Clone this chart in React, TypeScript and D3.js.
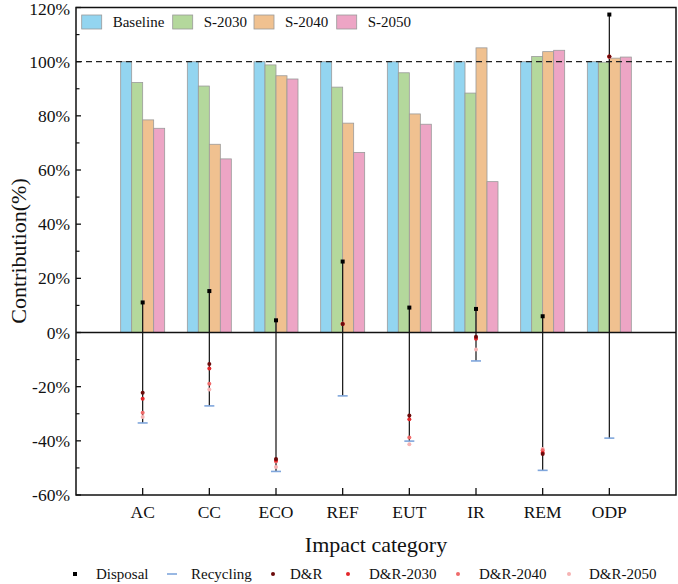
import React from "react";
import * as d3 from "d3";

const categories = ["AC", "CC", "ECO", "REF", "EUT", "IR", "REM", "ODP"];
const seriesNames = ["Baseline", "S-2030", "S-2040", "S-2050"];
const baseline = [100, 100, 100, 100, 100, 100, 100, 100];
const s2030 = [92.3, 91.0, 98.8, 90.6, 95.9, 88.4, 101.9, 99.8];
const s2040 = [78.5, 69.5, 94.8, 77.3, 80.7, 105.1, 103.7, 101.3];
const s2050 = [75.4, 64.1, 93.6, 66.5, 76.9, 55.7, 104.2, 101.7];

const disposal = [11.1, 15.3, 4.5, 26.2, 9.2, 8.7, 6.0, 117.4];
const recycling = [-33.4, -27.1, -51.3, -23.4, -40.1, -10.5, -50.9, -39.0];
const dr = [-22.2, -11.6, -46.7, 3.1, -30.6, -1.6, -44.9, 101.9];
const dr2030 = [-24.5, -13.3, -47.2, 3.1, -32.0, -2.3, -44.4, 101.9];
const dr2040 = [-29.6, -18.9, -47.6, 3.2, -38.8, -2.0, -43.5, 101.8];
const dr2050 = [-31.2, -21.0, -49.7, 3.2, -41.3, -6.3, -43.0, 101.7];

const yTicks = [-60, -40, -20, 0, 20, 40, 60, 80, 100, 120];

const barColors = ["#93d5f0", "#b4d89c", "#f0c190", "#eda5c5"];
const drNames = ["D&R", "D&R-2030", "D&R-2040", "D&R-2050"];
const drColors = ["#6b0a0a", "#e3262a", "#ef6a6a", "#f6b3b3"];

const FONT = "'Liberation Serif', 'Times New Roman', serif";

export default function App() {
  const W = 678, H = 584;
  const left = 76, right = 676, top = 7.5, bottom = 495;
  const x = d3.scaleBand<string>().domain(categories).range([left, right]).paddingInner(0).paddingOuter(0.5);
  const y = d3.scaleLinear().domain([-60, 120]).range([bottom, top]);
  const inner = d3.scaleBand<string>().domain(seriesNames).range([-22, 22]).padding(0);
  const series = [baseline, s2030, s2040, s2050];
  const drSeries = [dr, dr2030, dr2040, dr2050];
  const cx = (c: string) => (x(c) as number) + x.bandwidth() / 2;
  const minorTicks = d3.range(-50, 120, 20);

  return (
    <div style={{ position: "absolute", left: 0, top: 0 }}>
      <svg width={W} height={H} style={{ display: "block", background: "#fff" }} fontFamily={FONT}>
        {/* bars */}
        {categories.map((c, i) =>
          series.map((s, k) => {
            const v = s[i];
            const x0 = cx(c) + (inner(seriesNames[k]) as number);
            return (
              <rect key={c + k} x={x0} y={y(v)} width={inner.bandwidth()} height={y(0) - y(v)}
                fill={barColors[k]} stroke="#9a9a9a" strokeWidth={0.8} />
            );
          })
        )}
        {/* 100% reference line */}
        <line x1={left} x2={right} y1={y(100)} y2={y(100)} stroke="#222" strokeWidth={1.3} strokeDasharray="6,4" />
        {/* zero line */}
        <line x1={left} x2={right} y1={y(0)} y2={y(0)} stroke="#111" strokeWidth={1.5} />
        {/* range lines */}
        {categories.map((c, i) => (
          <g key={"rng" + c}>
            <line x1={cx(c)} x2={cx(c)} y1={y(disposal[i])} y2={y(recycling[i])} stroke="#111" strokeWidth={1.2} />
            <line x1={cx(c) - 5} x2={cx(c) + 5} y1={y(recycling[i])} y2={y(recycling[i])} stroke="#7fa6dc" strokeWidth={1.6} />
            <rect x={cx(c) - 2} y={y(disposal[i]) - 2} width={4} height={4} fill="#000" />
          </g>
        ))}
        {categories.map((c, i) =>
          drSeries.map((s, k) => (
            <circle key={"dr" + c + k} cx={cx(c)} cy={y(s[i])} r={2} fill={drColors[k]} />
          )).reverse()
        )}
        {/* frame */}
        <rect x={left} y={top} width={right - left} height={bottom - top} fill="none" stroke="#111" strokeWidth={1.5} />
        {/* y ticks */}
        {yTicks.map((t) => (
          <g key={"yt" + t}>
            <line x1={left} x2={left + 5} y1={y(t)} y2={y(t)} stroke="#111" strokeWidth={1.3} />
            <text x={left - 6} y={y(t) + (t === 120 ? 1.5 : 0)} dy="0.35em" textAnchor="end" fontSize={17.5} fill="#111">{t + "%"}</text>
          </g>
        ))}
        {minorTicks.map((t) => (
          <line key={"mt" + t} x1={left} x2={left + 3.5} y1={y(t)} y2={y(t)} stroke="#111" strokeWidth={1.2} />
        ))}
        {/* x ticks */}
        {categories.map((c) => (
          <g key={"xt" + c}>
            <line x1={cx(c)} x2={cx(c)} y1={bottom} y2={bottom - 7} stroke="#111" strokeWidth={1.3} />
            <text x={cx(c)} y={518} textAnchor="middle" fontSize={17.5} fill="#111">{c}</text>
          </g>
        ))}
        {/* axis titles */}
        <text x={376} y={552} textAnchor="middle" fontSize={22} fill="#111">Impact category</text>
        <text transform={`translate(26,251) rotate(-90)`} textAnchor="middle" fontSize={22} fill="#111">Contribution(%)</text>
        {/* top legend */}
        {seriesNames.map((n, k) => {
          const sx = [81.7, 172.7, 254, 336.7][k];
          return (
            <g key={"lg" + n}>
              <rect x={sx} y={15} width={20} height={14} fill={barColors[k]} stroke="#9a9a9a" strokeWidth={0.8} />
              <text x={sx + 31} y={27} fontSize={15} fill="#111">{n}</text>
            </g>
          );
        })}
        {/* bottom legend */}
        <rect x={73} y={572} width={4} height={4} fill="#000" />
        <text x={96} y={579} fontSize={15} fill="#111">Disposal</text>
        <line x1={167} x2={177} y1={574} y2={574} stroke="#7fa6dc" strokeWidth={1.6} />
        <text x={191} y={579} fontSize={15} fill="#111">Recycling</text>
        {drNames.map((n, k) => {
          const mx = [273, 348, 458, 569][k];
          const tx = [290, 369, 479, 589][k];
          return (
            <g key={"bl" + n}>
              <circle cx={mx} cy={574} r={2} fill={drColors[k]} />
              <text x={tx} y={579} fontSize={15} fill="#111">{n}</text>
            </g>
          );
        })}
      </svg>
    </div>
  );
}
